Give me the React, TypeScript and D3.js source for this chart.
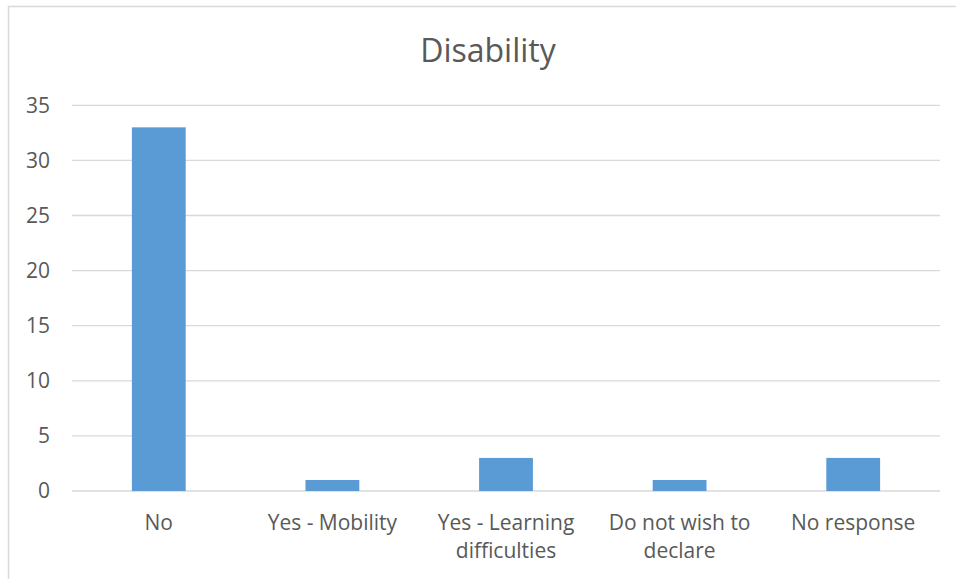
import React, { useEffect, useRef } from "react";
import * as d3 from "d3";

const categories = ["No", "Yes - Mobility", "Yes - Learning difficulties", "Do not wish to declare", "No response"];
const labelLines = [["No"], ["Yes - Mobility"], ["Yes - Learning", "difficulties"], ["Do not wish to", "declare"], ["No response"]];
const values = [33, 1, 3, 1, 3];
const yTicks = [0, 5, 10, 15, 20, 25, 30, 35];
const title = "Disability";

const W = 956, H = 579;
const FONT = "'Open Sans', 'Noto Sans', sans-serif";

export default function App() {
  const ref = useRef<SVGSVGElement>(null);
  useEffect(() => {
    const svg = d3.select(ref.current);
    svg.selectAll("*").remove();
    const left = 72, right = 940, top = 105.3, bottom = 491;
    const x = d3.scaleBand().domain(categories).range([left, right]).padding(0);
    const y = d3.scaleLinear().domain([0, 35]).range([bottom, top]);

    svg.append("rect").attr("x", 8.5).attr("y", 6.5).attr("width", W + 10).attr("height", H + 10)
      .attr("fill", "white").attr("stroke", "#d9d9d9").attr("stroke-width", 1.5);

    svg.append("text").attr("x", 488).attr("y", 62).attr("text-anchor", "middle")
      .attr("font-family", FONT).attr("font-size", 32).attr("fill", "#595959").text(title);

    svg.append("g").selectAll("line").data(yTicks).join("line")
      .attr("x1", left).attr("x2", right)
      .attr("y1", d => y(d)).attr("y2", d => y(d))
      .attr("stroke", "#d9d9d9").attr("stroke-width", 1.3);

    svg.append("g").selectAll("text").data(yTicks).join("text")
      .attr("x", 50).attr("y", d => y(d)).attr("dy", "0.35em").attr("text-anchor", "end")
      .attr("font-family", FONT).attr("font-size", 21).attr("fill", "#595959").text(d => String(d));

    const bw = x.step() * 0.31;
    svg.append("g").selectAll("rect").data(values).join("rect")
      .attr("x", (d, i) => x(categories[i])! + x.bandwidth() / 2 - bw / 2)
      .attr("width", bw)
      .attr("y", d => y(d)).attr("height", d => y(0) - y(d))
      .attr("fill", "#5b9bd5");

    const lg = svg.append("g");
    labelLines.forEach((lines, i) => {
      const cx = x(categories[i])! + x.bandwidth() / 2;
      lines.forEach((ln, j) => {
        lg.append("text").attr("x", cx).attr("y", 530 + j * 28).attr("text-anchor", "middle")
          .attr("font-family", FONT).attr("font-size", 21).attr("fill", "#595959").text(ln);
      });
    });
  }, []);
  return (
    <svg ref={ref} width={W} height={H} style={{ position: "absolute", left: 0, top: 0, background: "white" }} />
  );
}
